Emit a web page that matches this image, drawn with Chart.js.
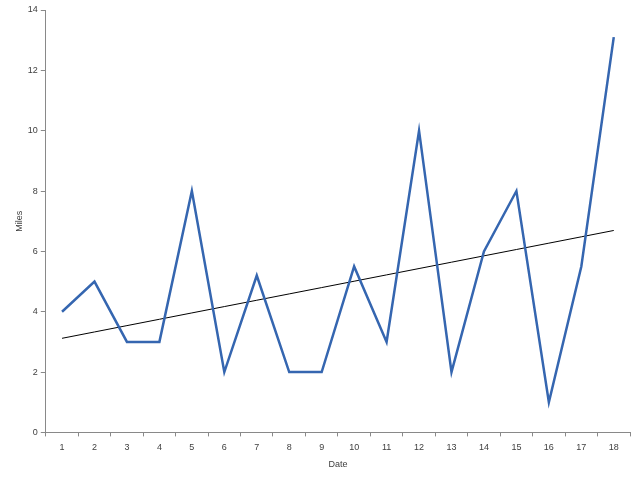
<!DOCTYPE html>
<html>
<head>
<meta charset="utf-8">
<script src="https://cdn.jsdelivr.net/npm/chart.js@4"></script>
<style>
  body { margin: 0; background: #fff; }
  #wrap { width: 640px; height: 480px; }
</style>
</head>
<body>
<div id="wrap"><canvas id="chartMiles"></canvas></div>
<script>
// Data
const dates = ['1','2','3','4','5','6','7','8','9','10','11','12','13','14','15','16','17','18'];
const miles = [4, 5, 3, 3, 8, 2, 5.2, 2, 2, 5.5, 3, 10, 2, 6, 8, 1, 5.5, 13.1];
const yTicks = [0, 2, 4, 6, 8, 10, 12, 14];

// Linear trendline (least squares) over miles
const n = miles.length;
const xMean = (n + 1) / 2;
const yMean = miles.reduce((a, b) => a + b, 0) / n;
let sxy = 0, sxx = 0;
miles.forEach((v, i) => { const dx = (i + 1) - xMean; sxy += dx * (v - yMean); sxx += dx * dx; });
const slope = sxy / sxx;
const trend = miles.map((v, i) => yMean + slope * ((i + 1) - xMean));

const axisColor = '#898989';
const labelFont = { family: 'Liberation Sans', size: 9 };

const ctxMiles = document.getElementById('chartMiles');
new Chart(ctxMiles, {
    type: 'line',
    data: {
        labels: dates,
        datasets: [{
            label: 'Miles',
            data: miles,
            borderColor: '#3566b0',
            borderWidth: 2.5,
            pointRadius: 0,
            tension: 0,
        }, {
            label: 'Linear (Miles)',
            data: trend,
            borderColor: '#000000',
            borderWidth: 1,
            pointRadius: 0,
            tension: 0,
        }],
    },
    options: {
        animation: false,
        responsive: true,
        maintainAspectRatio: false,
        layout: { padding: { top: 10, right: 10, bottom: 6, left: 8 } },
        plugins: {
            legend: { display: false },
            tooltip: { enabled: false },
        },
        scales: {
            x: {
                offset: true,
                grid: { offset: true, drawOnChartArea: false, tickLength: 4, color: axisColor },
                border: { color: axisColor },
                ticks: { color: '#404040', font: labelFont, maxRotation: 0, padding: 6 },
                title: { display: true, text: 'Date', color: '#404040', font: labelFont, padding: { top: 0, bottom: 4 } },
            },
            y: {
                min: 0,
                max: 14,
                afterBuildTicks: (axis) => { axis.ticks = yTicks.map(v => ({ value: v })); },
                grid: { drawOnChartArea: false, tickLength: 5, color: axisColor },
                border: { color: axisColor },
                ticks: { color: '#404040', font: labelFont, padding: 3 },
                title: { display: true, text: 'Miles', color: '#404040', font: labelFont, padding: { top: 6, bottom: 0 } },
            },
        },
    },
});
</script>
</body>
</html>
